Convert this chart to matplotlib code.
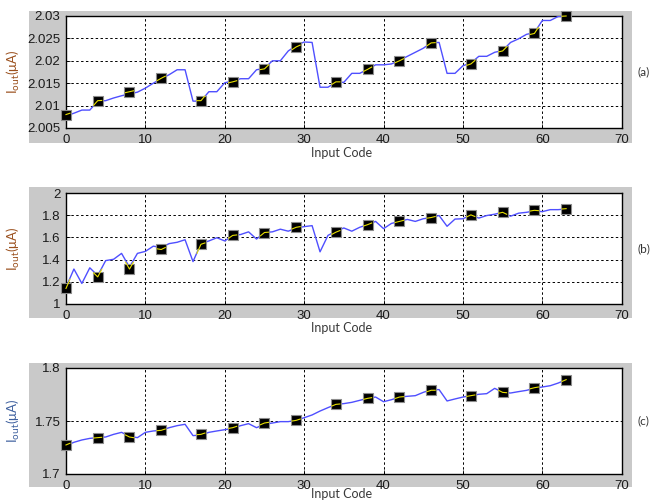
import numpy as np
import matplotlib
matplotlib.use("Agg")
import matplotlib.pyplot as plt
from matplotlib.patches import Rectangle

# input codes 0..63
codes = np.arange(64)
marker_codes = [0, 4, 8, 12, 17, 21, 25, 29, 34, 38, 42, 46, 51, 55, 59, 63]

# (a) simulated output current, uA
iout_a = [2.0077, 2.0083, 2.0090, 2.0090, 2.0110, 2.0111, 2.0117, 2.0122,
          2.0126, 2.0130, 2.0139, 2.0150, 2.0160, 2.0169, 2.0180, 2.0180,
          2.0110, 2.0110, 2.0131, 2.0131, 2.0151, 2.0155, 2.0160, 2.0160,
          2.0180, 2.0183, 2.0200, 2.0200, 2.0222, 2.0234, 2.0242, 2.0241,
          2.0141, 2.0141, 2.0152, 2.0152, 2.0172, 2.0172, 2.0181, 2.0191,
          2.0191, 2.0193, 2.0201, 2.0210, 2.0219, 2.0228, 2.0240, 2.0241,
          2.0172, 2.0172, 2.0189, 2.0195, 2.0210, 2.0210, 2.0219, 2.0223,
          2.0241, 2.0249, 2.0259, 2.0263, 2.0290, 2.0290, 2.0299, 2.0300]
mark_a = [2.0080, 2.0111, 2.0131, 2.0161, 2.0111, 2.0153, 2.0182, 2.0231,
          2.0153, 2.0181, 2.0200, 2.0240, 2.0193, 2.0222, 2.0261, 2.0300]

# (b)
iout_b = [1.150, 1.315, 1.185, 1.326, 1.256, 1.391, 1.403, 1.456,
          1.332, 1.456, 1.474, 1.521, 1.509, 1.544, 1.556, 1.579,
          1.382, 1.544, 1.568, 1.597, 1.568, 1.618, 1.626, 1.650,
          1.585, 1.644, 1.650, 1.674, 1.656, 1.685, 1.697, 1.706,
          1.470, 1.618, 1.656, 1.685, 1.656, 1.691, 1.715, 1.744,
          1.679, 1.726, 1.744, 1.762, 1.744, 1.768, 1.779, 1.797,
          1.700, 1.765, 1.768, 1.803, 1.774, 1.797, 1.809, 1.826,
          1.791, 1.818, 1.826, 1.838, 1.832, 1.850, 1.850, 1.856]
mark_b = [1.140, 1.244, 1.315, 1.491, 1.538, 1.618, 1.644, 1.691,
          1.647, 1.715, 1.744, 1.779, 1.803, 1.826, 1.844, 1.859]

# (c)
iout_c = [1.7267, 1.7299, 1.7321, 1.7336, 1.7343, 1.7349, 1.7374, 1.7393,
          1.7355, 1.7343, 1.7393, 1.7406, 1.7412, 1.7437, 1.7456, 1.7469,
          1.7362, 1.7368, 1.7393, 1.7406, 1.7418, 1.7431, 1.7456, 1.7475,
          1.7437, 1.7469, 1.7481, 1.7494, 1.7494, 1.7506, 1.7531, 1.7557,
          1.7594, 1.7626, 1.7657, 1.7664, 1.7676, 1.7695, 1.7714, 1.7726,
          1.7682, 1.7701, 1.7726, 1.7733, 1.7739, 1.7770, 1.7796, 1.7796,
          1.7689, 1.7708, 1.7726, 1.7739, 1.7752, 1.7758, 1.7808, 1.7770,
          1.7764, 1.7777, 1.7789, 1.7808, 1.7821, 1.7833, 1.7858, 1.7890]
mark_c = [1.7274, 1.7343, 1.7349, 1.7412, 1.7374, 1.7437, 1.7481, 1.7506,
          1.7657, 1.7714, 1.7726, 1.7790, 1.7739, 1.7770, 1.7814, 1.7890]

xticks = [0, 10, 20, 30, 40, 50, 60, 70]
yticks_a = [2.005, 2.01, 2.015, 2.02, 2.025, 2.03]
yticks_b = [1, 1.2, 1.4, 1.6, 1.8, 2]
yticks_c = [1.7, 1.75, 1.8]
panel_tags = ["(a)", "(b)", "(c)"]

plt.rcParams['font.family'] = ['Liberation Sans', 'DejaVu Sans']

fig = plt.figure(figsize=(6.5, 5), dpi=100, facecolor='white')

# axes rectangles (figure fraction) and grey frame behind each
ax_rects = [[0.1015, 0.744, 0.855, 0.224],
            [0.1015, 0.392, 0.855, 0.222],
            [0.1015, 0.052, 0.855, 0.212]]
grey_rects = [[0.0446, 0.714, 0.928, 0.264],
              [0.0446, 0.364, 0.928, 0.262],
              [0.0446, 0.026, 0.928, 0.248]]
xlab_gap = [0.008, 0.008, 0.002]
ylab_colors = ['#9a4f1c', '#9a4f1c', '#3d5f9e']

panels = [(iout_a, mark_a, yticks_a), (iout_b, mark_b, yticks_b),
          (iout_c, mark_c, yticks_c)]

dense = np.linspace(0, 63, 1261)

for i, (curve, marks, yt) in enumerate(panels):
    g = grey_rects[i]
    fig.patches.append(Rectangle((g[0], g[1]), g[2], g[3], transform=fig.transFigure,
                                 facecolor='#c9c9c9', edgecolor='none', zorder=-5))
    ax = fig.add_axes(ax_rects[i])
    ax.set_facecolor('white')
    ax.plot(codes, curve, color='#4f4fff', lw=1.0, zorder=3)
    ax.plot(marker_codes, marks, ls='none', marker='s', ms=7, mfc='black',
            mec='#8c8c8c', mew=0.8, zorder=4, clip_on=False)
    # yellow trace through each marker
    yd = np.interp(dense, codes, curve)
    for m, mv in zip(marker_codes, marks):
        sel = (dense >= m - 0.5) & (dense <= m + 0.5)
        off = mv - np.interp(m, codes, curve)
        ax.plot(dense[sel], yd[sel] + off, color='#e8e000', lw=0.8, zorder=5,
                clip_on=False)

    ax.set_xlim(0, 70)
    ax.set_ylim(yt[0], yt[-1])
    ax.set_xticks(xticks)
    ax.set_xticklabels([str(v) for v in xticks])
    ax.set_yticks(yt)
    ax.set_yticklabels([('%g' % v) for v in yt])
    ax.tick_params(direction='in', length=3, width=0.6, labelsize=9.5,
                   labelcolor='#1a1a1a', pad=4)
    ax.grid(True, color='black', ls=(0, (2.5, 2.5)), lw=0.7)
    for s in ax.spines.values():
        s.set_color('black')
        s.set_linewidth(1.0)

    ax.set_ylabel(r'I$_{\mathrm{out}}$(μA)', fontsize=9.5, color=ylab_colors[i],
                  family=['Lato', 'DejaVu Sans'])
    ax.yaxis.set_label_coords(-0.079, 0.5)
    ax.text(0.525, g[1] - xlab_gap[i], 'Input Code', transform=fig.transFigure,
            ha='center', va='top', fontsize=9, color='#3a3a3a',
            family=['Lato', 'DejaVu Sans'])
    ax.text(0.981, ax_rects[i][1] + ax_rects[i][3] / 2, panel_tags[i],
            transform=fig.transFigure, ha='left', va='center', fontsize=8.5,
            color='#333333', family=['Lato', 'DejaVu Sans'])

fig.savefig('out.png', dpi=100, facecolor='white')
